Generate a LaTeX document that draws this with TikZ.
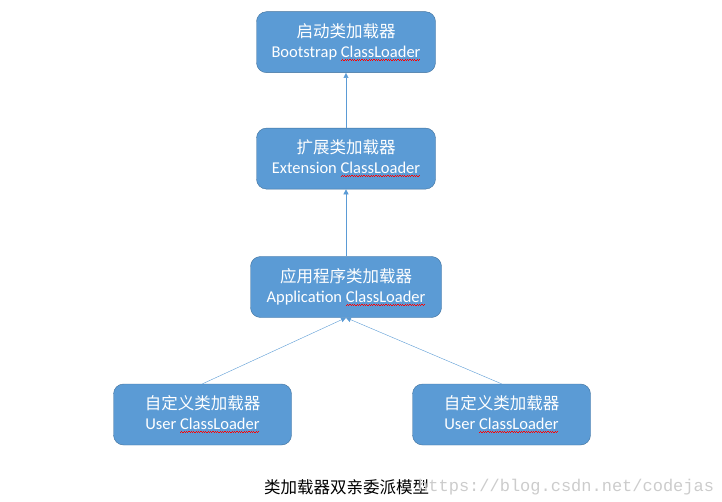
\documentclass[tikz,border=0pt]{standalone}
\usepackage{fontspec}
\setmainfont{Carlito}
\newfontfamily\cjk{Noto Sans CJK SC}
\newfontfamily\urlfont{Liberation Mono}
\usepackage{tikz}
\usetikzlibrary{arrows.meta,positioning}
\usepackage{xcolor}
\definecolor{boxblue}{HTML}{5B9BD5}
\definecolor{boxline}{HTML}{41719C}
\definecolor{markgray}{HTML}{CCCCCC}
\newsavebox\wordbox
\newcommand\spellwave[1]{\sbox\wordbox{#1}\rlap{\lower3.5pt\hbox to \wd\wordbox{\leaders\hbox{{\color{red}\rule{1.2pt}{1.1pt}\raise1pt\hbox{\rule{1.2pt}{1.1pt}}}}\hfil}}\usebox\wordbox}

\begin{document}
\begin{tikzpicture}[x=1pt, y=-1pt, every node/.style={font=\fontsize{16.5}{20}\selectfont}]
\tikzset{loader/.style={draw=boxline, fill=boxblue, rounded corners=10pt, text=white, align=center, minimum height=61pt, inner sep=0pt}}
\tikzset{up/.style={draw=boxblue, -{Triangle[length=5pt, width=5pt]}}}
\useasboundingbox (0,0) rectangle (722,502);
\node[loader, minimum width=191pt] (app) at (346,287) {{\cjk 应用程序类加载器}\\Application \spellwave{ClassLoader}};
\node[loader, minimum width=179pt, above=67pt of app] (ext) {{\cjk 扩展类加载器}\\Extension \spellwave{ClassLoader}};
\node[loader, minimum width=179pt, above=55pt of ext] (boot) {{\cjk 启动类加载器}\\Bootstrap \spellwave{ClassLoader}};
\node[loader, minimum width=178pt] (user1) at (202.5,414.5) {{\cjk 自定义类加载器}\\User \spellwave{ClassLoader}};
\node[loader, minimum width=178pt] (user2) at (501.5,414.5) {{\cjk 自定义类加载器}\\User \spellwave{ClassLoader}};
\draw[up] (ext) -- (boot);
\draw[up] (app) -- (ext);
\draw[up] (user1.north) -- (app.south);
\draw[up] (user2.north) -- (app.south);
% caption and watermark
\node[anchor=base west, inner sep=0pt] (cap) at (264,493) {\cjk 类加载器双亲委派模型};
\node[anchor=base west, inner sep=0pt, text=markgray, font=\fontsize{17}{20}\urlfont] (mark) at (418,491) {https://blog.csdn.net/codejas};
\end{tikzpicture}
\end{document}
